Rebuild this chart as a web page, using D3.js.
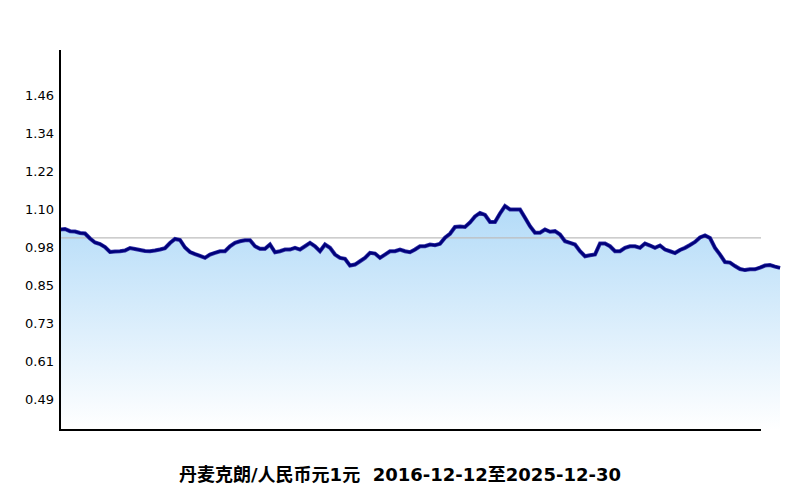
<!DOCTYPE html>
<html>
<head>
<meta charset="utf-8">
<script src="https://cdn.jsdelivr.net/npm/d3@7"></script>
<style>
  body { margin: 0; background: #fff; }
  svg { display: block; }
</style>
</head>
<body>
<div id="chart"></div>
<script>
const TITLE = "丹麦克朗/人民币元1元  2016-12-12至2025-12-30";
const startDate = "2016-12-12";
const endDate = "2025-12-30";
const yDomain = [0.36875, 1.58125];
const tickCount = 10;
const refValue = 0.982;

// rate, roughly every 23 days
const rates = [
  1.0085, 1.0101, 1.0031, 1.0021, 0.9973, 0.9957, 0.9797, 0.9670, 0.9622, 0.9526,
  0.9366, 0.9382, 0.9391, 0.9414, 0.9494, 0.9462, 0.9430, 0.9398, 0.9391, 0.9414,
  0.9446, 0.9487, 0.9654, 0.9782, 0.9750, 0.9510, 0.9366, 0.9302, 0.9244, 0.9180,
  0.9286, 0.9340, 0.9391, 0.9391, 0.9551, 0.9660, 0.9711, 0.9743, 0.9743, 0.9551,
  0.9468, 0.9468, 0.9606, 0.9359, 0.9391, 0.9446, 0.9446, 0.9500, 0.9446, 0.9551,
  0.9660, 0.9551, 0.9391, 0.9606, 0.9500, 0.9286, 0.9180, 0.9148, 0.8934, 0.8966,
  0.9071, 0.9180, 0.9340, 0.9318, 0.9180, 0.9286, 0.9391, 0.9391, 0.9446, 0.9391,
  0.9359, 0.9446, 0.9551, 0.9551, 0.9606, 0.9583, 0.9628, 0.9820, 0.9948, 1.0165,
  1.0181, 1.0165, 1.0309, 1.0501, 1.0613, 1.0549, 1.0325, 1.0325, 1.0597, 1.0831,
  1.0725, 1.0725, 1.0725, 1.0460, 1.0191, 0.9980, 0.9980, 1.0085, 1.0012, 1.0031,
  0.9925, 0.9711, 0.9660, 0.9606, 0.9391, 0.9231, 0.9263, 0.9286, 0.9637, 0.9637,
  0.9551, 0.9391, 0.9391, 0.9500, 0.9551, 0.9551, 0.9500, 0.9637, 0.9574, 0.9500,
  0.9574, 0.9446, 0.9391, 0.9334, 0.9430, 0.9500, 0.9590, 0.9686, 0.9830, 0.9894,
  0.9814, 0.9500, 0.9286, 0.9046, 0.9030, 0.8918, 0.8822, 0.8790, 0.8815, 0.8815,
  0.8870, 0.8934, 0.8950, 0.8902, 0.8860
];

const width = 800, height = 500;
const margin = { top: 50, right: 20, bottom: 70, left: 60 };
const axisEnd = 761;

const t0 = d3.timeParse("%Y-%m-%d")(startDate);
const t1 = d3.timeParse("%Y-%m-%d")(endDate);
const data = rates.map((v, i) => ({
  date: new Date(+t0 + i * (t1 - t0) / (rates.length - 1)),
  value: v
}));

const svg = d3.select("#chart")
  .append("svg")
    .attr("width", width)
    .attr("height", height);

const x = d3.scaleTime()
  .domain([t0, t1])
  .range([margin.left, width - margin.right]);

const y = d3.scaleLinear()
  .domain(yDomain)
  .range([height - margin.bottom, margin.top]);

const step = (yDomain[1] - yDomain[0]) / tickCount;
const tickVals = d3.range(1, tickCount).map(k => yDomain[0] + k * step);

// gradient under the line
const grad = svg.append("defs")
  .append("linearGradient")
    .attr("id", "fillGrad")
    .attr("gradientUnits", "userSpaceOnUse")
    .attr("x1", 0).attr("x2", 0)
    .attr("y1", y(d3.max(rates))).attr("y2", y(yDomain[0]));
grad.append("stop").attr("offset", "0%").attr("stop-color", "#b3dbf8");
grad.append("stop").attr("offset", "100%").attr("stop-color", "#ffffff");

svg.append("path")
  .datum(data)
  .attr("fill", "url(#fillGrad)")
  .attr("d", d3.area()
    .x(d => x(d.date))
    .y0(y(yDomain[0]))
    .y1(d => y(d.value)));

// reference line
svg.append("line")
  .attr("x1", margin.left).attr("x2", axisEnd)
  .attr("y1", y(refValue)).attr("y2", y(refValue))
  .attr("stroke", "#bdbdbd")
  .attr("stroke-width", 1.2);

// the rate line
const line = d3.line().x(d => x(d.date)).y(d => y(d.value));
svg.append("path")
  .datum(data)
  .attr("fill", "none")
  .attr("stroke", "#3434a8")
  .attr("stroke-width", 4)
  .attr("stroke-linejoin", "miter")
  .attr("d", line);

svg.append("path")
  .datum(data)
  .attr("fill", "none")
  .attr("stroke", "#00007a")
  .attr("stroke-width", 2.6)
  .attr("stroke-linejoin", "miter")
  .attr("d", line);

// y axis labels
const yAxis = svg.append("g")
  .attr("transform", `translate(${margin.left},0)`)
  .call(d3.axisLeft(y)
    .tickValues(tickVals)
    .tickSize(0)
    .tickPadding(6)
    .tickFormat(d => (d + 1e-9).toFixed(2)));
yAxis.select(".domain").remove();
yAxis.selectAll("text")
  .attr("dy", "0.85em")
  .style("font-family", "DejaVu Sans, sans-serif")
  .style("font-size", "13px")
  .style("fill", "#000");

// axis lines
svg.append("line")
  .attr("x1", margin.left).attr("x2", margin.left)
  .attr("y1", y(yDomain[1])).attr("y2", y(yDomain[0]))
  .attr("stroke", "#000").attr("stroke-width", 2);
svg.append("line")
  .attr("x1", margin.left - 1).attr("x2", axisEnd)
  .attr("y1", y(yDomain[0])).attr("y2", y(yDomain[0]))
  .attr("stroke", "#000").attr("stroke-width", 2);

// title
svg.append("text")
  .attr("x", width / 2)
  .attr("y", 481)
  .attr("text-anchor", "middle")
  .style("white-space", "pre")
  .style("font-family", "DejaVu Sans, Noto Sans CJK SC, sans-serif")
  .style("font-weight", "bold")
  .style("font-size", "18px")
  .text(TITLE);
</script>
</body>
</html>
